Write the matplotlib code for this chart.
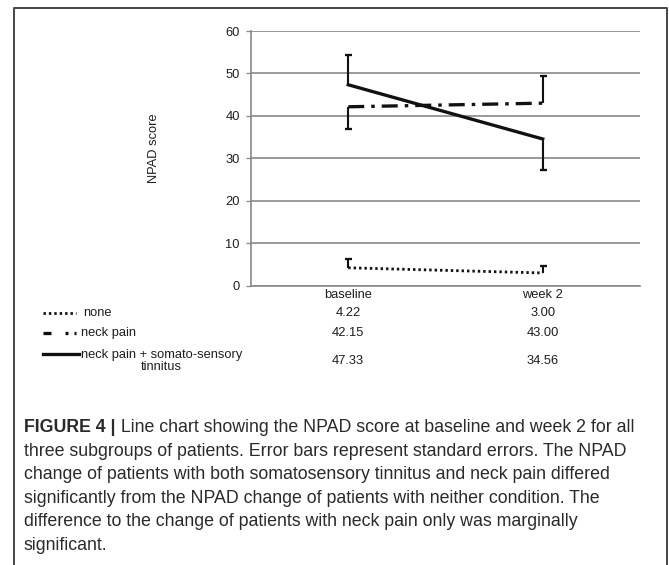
import matplotlib
matplotlib.use('Agg')
import matplotlib.pyplot as plt
from matplotlib.lines import Line2D
from matplotlib.transforms import blended_transform_factory
from matplotlib import font_manager
import numpy as np

# ---------------- data ----------------
categories = ['baseline', 'week 2']
series_names = ['none', 'neck pain', 'neck pain + somato-sensory\ntinnitus']
none_vals = [4.22, 3.00]
neck_vals = [42.15, 43.00]
both_vals = [47.33, 34.56]
# one-sided standard-error bars (lower, upper)
none_err_low = [0.0, 0.0]
none_err_up = [2.1, 1.6]
neck_err_low = [5.25, 0.0]
neck_err_up = [0.0, 6.3]
both_err_low = [0.0, 7.2]
both_err_up = [7.1, 0.0]
yticks = [0, 10, 20, 30, 40, 50, 60]
caption_bold = 'FIGURE 4 |'
caption_lines = [
    ' Line chart showing the NPAD score at baseline and week 2 for all',
    'three subgroups of patients. Error bars represent standard errors. The NPAD',
    'change of patients with both somatosensory tinnitus and neck pain differed',
    'significantly from the NPAD change of patients with neither condition. The',
    'difference to the change of patients with neck pain only was marginally',
    'significant.',
]

# ---------------- setup ----------------
plt.rcParams['lines.scale_dashes'] = False
FONT = ['Liberation Sans', 'DejaVu Sans']
plt.rcParams['font.family'] = FONT
installed = {f.name for f in font_manager.fontManager.ttflist}
CAP_FONT = ['Liberation Sans Narrow'] if 'Liberation Sans Narrow' in installed else FONT

W, H = 669, 565
fig = plt.figure(figsize=(W / 100, H / 100), dpi=100)


def fx(px):
    return px / W


def fy(py):
    return 1 - py / H


def pt(px):
    return px * 0.72


TXT = '#1e1e1e'
GRID = '#8a8a8a'
FS = 9.3

ax = fig.add_axes([fx(251), fy(285.7), fx(640) - fx(251), fy(31) - fy(285.7)])
x = np.arange(len(categories))
ax.set_xlim(-0.5, 1.5)
ax.set_ylim(0, 60)
ax.set_yticks(yticks)
ax.set_xticks(x, categories)
ax.tick_params(axis='y', length=pt(5), width=pt(1.3), color=GRID, pad=pt(6),
               labelsize=FS, labelcolor=TXT)
ax.tick_params(axis='x', length=0, pad=pt(3), labelsize=FS, labelcolor=TXT)
ax.yaxis.grid(True, color=GRID, lw=pt(1.7))
ax.set_axisbelow(True)
for s in ['top', 'right']:
    ax.spines[s].set_visible(False)
for s in ['left', 'bottom']:
    ax.spines[s].set_color(GRID)
    ax.spines[s].set_linewidth(pt(1.7))

none_style = dict(color='#111111', lw=pt(2.8), linestyle=(0, (pt(2.4), pt(3.0))),
                  dash_capstyle='butt')
neck_style = dict(color='#111111', lw=pt(3.3),
                  linestyle=(0, (pt(16), pt(7), pt(3.5), pt(7))), dash_capstyle='butt')
both_style = dict(color='#111111', lw=pt(3.3), linestyle='-')

ax.plot(x, none_vals, **none_style, zorder=3)
ax.plot(x, neck_vals, **neck_style, zorder=3)
ax.plot(x, both_vals, **both_style, zorder=3)


def err(vals, lows, ups):
    for xi, v, lo, up in zip(x, vals, lows, ups):
        for d in (-lo, up):
            if d != 0:
                ax.plot([xi, xi], [v, v + d], color='#111111', lw=pt(2.1),
                        solid_capstyle='butt', zorder=4)
                ax.plot([xi], [v + d], marker='_', ms=pt(7), mew=pt(2.3),
                        color='#111111', zorder=4)


err(none_vals, none_err_low, none_err_up)
err(neck_vals, neck_err_low, neck_err_up)
err(both_vals, both_err_low, both_err_up)

fig.text(fx(154), fy(148), 'NPAD score', rotation=90, ha='center', va='center',
         fontsize=FS, color=TXT)

# ---------------- data table under the chart ----------------
tr = blended_transform_factory(ax.transData, fig.transFigure)
row_y = [313, 333, 361]
fig.add_artist(Line2D([fx(43), fx(76)], [fy(313)] * 2, **none_style))
fig.add_artist(Line2D([fx(43), fx(76)], [fy(333)] * 2, color='#111111', lw=pt(3.3),
                      linestyle=(0, (pt(8), pt(14), pt(3), pt(6), pt(3), pt(30))),
                      dash_capstyle='butt'))
fig.add_artist(Line2D([fx(43), fx(79)], [fy(354)] * 2, **both_style))
fig.text(fx(83), fy(313), series_names[0], ha='left', va='center', fontsize=FS, color=TXT)
fig.text(fx(81), fy(333), series_names[1], ha='left', va='center', fontsize=FS, color=TXT)
fig.text(fx(81), fy(361), series_names[2], ha='left', va='center', fontsize=FS,
         color=TXT, multialignment='center', linespacing=1.05)
for vals, ry in zip([none_vals, neck_vals, both_vals], row_y):
    for xi, v in zip(x, vals):
        ax.text(xi, fy(ry), f'{v:.2f}', transform=tr, ha='center', va='center',
                fontsize=FS, color=TXT)

# ---------------- frame ----------------
fig.add_artist(Line2D([fx(13.5), fx(13.5), fx(667), fx(667)],
                      [0, fy(7.5), fy(7.5), 0], color='#4a4a4a', lw=pt(2.0)))

# ---------------- caption ----------------
CAP = '#2a2a2a'
cap_fs = 11.0
x0 = 24
tb = fig.text(fx(x0), fy(432), caption_bold, weight='bold', fontsize=cap_fs,
              color=CAP, ha='left', va='baseline', family=CAP_FONT)
tl = [fig.text(fx(x0), fy(432 + 23.6 * i), s, fontsize=cap_fs, color=CAP,
               ha='left', va='baseline', family=CAP_FONT)
      for i, s in enumerate(caption_lines)]
r = fig.canvas.get_renderer()
wtot = tb.get_window_extent(r).width + tl[0].get_window_extent(r).width
cap_fs *= (634 - x0) / wtot
tb.set_fontsize(cap_fs)
for t in tl:
    t.set_fontsize(cap_fs)
bx1 = tb.get_window_extent(r).x1
tl[0].set_x(bx1 / W)

fig.savefig('out.png', dpi=100)
